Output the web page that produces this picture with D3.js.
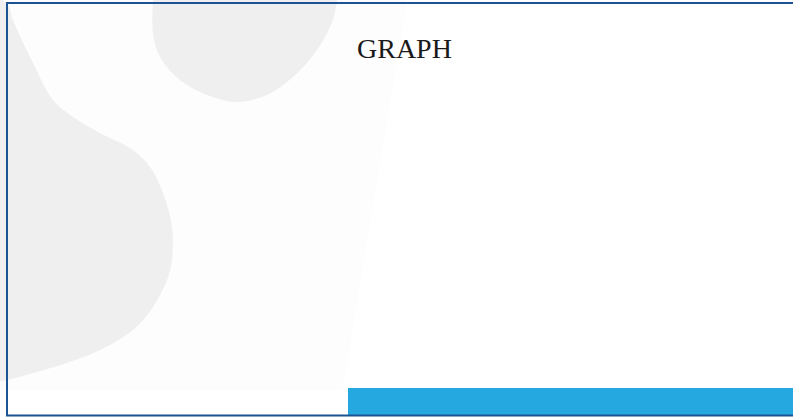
<!DOCTYPE html>
<html>
<head>
<meta charset="utf-8">
<script src="https://cdn.jsdelivr.net/npm/d3@7"></script>
<style>
    html, body { margin: 0; padding: 0; background: #fff; overflow: hidden; }
    svg { display: block; }
</style>
</head>
<body>
<div class="slide"></div>
<script>
/* Slide placeholder: "GRAPH" */

var title = "GRAPH";

// outline of the big grey shape on the left
var leftBlob = [
    [-5, -5], [8, 5], [13, 20], [33, 63], [53, 100], [73, 117], [100, 133],
    [133, 150], [150, 167], [163, 193], [172, 227], [172, 260], [167, 280],
    [153, 307], [133, 330], [100, 350], [67, 363], [33, 373], [7, 380], [-5, 382]
];

// outline of the round grey shape at the top
var topBlob = [
    [153, 0], [153, 33], [160, 57], [180, 80], [207, 95], [237, 102],
    [267, 95], [293, 77], [317, 50], [333, 20], [337, 0]
];

// faint tinted wedge behind the shapes
var wedge = [[0, 0], [407, 0], [343, 390], [0, 390]];

var w = 793;
var h = 417;

var svg = d3.select(".slide")
    .append("svg")
    .attr("width", w)
    .attr("height", h);

var line = d3.line().curve(d3.curveCatmullRom);

svg.append("path")
    .attr("d", d3.line()(wedge) + "Z")
    .attr("fill", "#fdfdfd");

svg.append("path")
    .attr("d", line(leftBlob) + "L-5,-5Z")
    .attr("fill", "#efefef");

svg.append("path")
    .attr("d", line(topBlob) + "Z")
    .attr("fill", "#efefef");

// blue band at the bottom right
svg.append("rect")
    .attr("x", 348)
    .attr("y", 388)
    .attr("width", w - 348)
    .attr("height", 27)
    .attr("fill", "#25a8e0");

// frame
svg.append("rect")
    .attr("x", 7)
    .attr("y", 3)
    .attr("width", w)
    .attr("height", 412.5)
    .attr("fill", "none")
    .attr("stroke", "#1b5394")
    .attr("stroke-width", 2);

svg.append("text")
    .attr("x", 357)
    .attr("y", 58)
    .attr("font-family", "'Liberation Serif', 'Times New Roman', serif")
    .attr("font-size", 28)
    .attr("fill", "#1a1a1a")
    .text(title);
</script>
</body>
</html>
